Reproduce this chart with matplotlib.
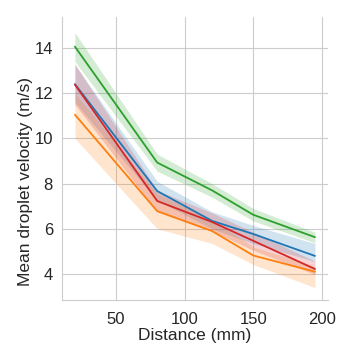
import matplotlib
matplotlib.use("Agg")
import matplotlib.pyplot as plt
import seaborn as sns
import numpy as np

# distances (mm) and mean velocities (m/s) per series, with band limits
distance = [20, 80, 120, 150, 195]

blue = [12.4, 7.67, 6.35, 5.77, 4.80]
blue_lo = [11.6, 7.25, 6.0, 5.35, 4.55]
blue_hi = [13.25, 8.1, 6.75, 6.15, 5.35]

orange = [11.05, 6.78, 5.9, 4.82, 4.10]
orange_lo = [10.0, 6.0, 5.35, 4.42, 3.4]
orange_hi = [12.0, 7.55, 6.4, 5.2, 4.35]

green = [14.06, 8.93, 7.7, 6.62, 5.63]
green_lo = [13.4, 8.55, 7.4, 6.35, 5.38]
green_hi = [14.68, 9.3, 8.0, 6.9, 5.85]

red = [12.38, 7.23, 6.3, 5.47, 4.22]
red_lo = [11.5, 6.75, 5.9, 5.05, 3.98]
red_hi = [13.3, 7.7, 6.7, 5.85, 4.57]

sns.set_style("whitegrid")
plt.rcParams['font.family'] = ['Liberation Sans', 'DejaVu Sans']

fig = plt.figure(figsize=(3.48, 3.6), dpi=100)
ax = fig.add_axes([62/348, 1-300/360, (328-62)/348, (300-17)/360])

series = [(blue, blue_lo, blue_hi, 'tab:blue'),
          (orange, orange_lo, orange_hi, 'tab:orange'),
          (green, green_lo, green_hi, 'tab:green'),
          (red, red_lo, red_hi, 'tab:red')]
for y, lo, hi, c in series:
    ax.fill_between(distance, lo, hi, color=c, alpha=0.2, linewidth=0)
    ax.plot(distance, y, color=c, lw=1.3)

ax.set_xlim(10.6, 204.5)
ax.set_ylim(2.85, 15.37)
ax.set_xticks([50, 100, 150, 200])
ax.set_yticks([4, 6, 8, 10, 12, 14])
ax.tick_params(axis='x', labelsize=12, pad=5)
ax.tick_params(axis='y', labelsize=12, pad=3)
ax.set_xlabel('Distance (mm)', fontsize=12.5, labelpad=1)
ax.set_ylabel('Mean droplet velocity (m/s)', fontsize=12.5)
ax.yaxis.set_label_coords(-0.11, 0.42)
sns.despine(ax=ax)

fig.savefig('out.png', dpi=100)
